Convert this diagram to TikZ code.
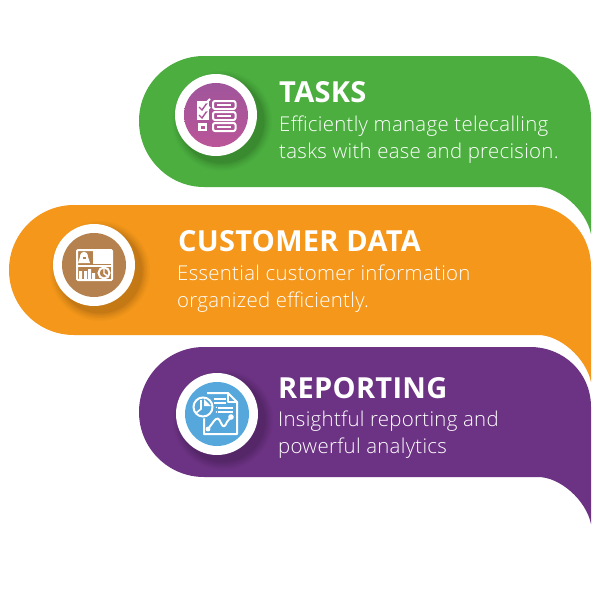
\documentclass[tikz,border=0pt]{standalone}
\usepackage{fontspec}
\setmainfont{Open Sans}
\newfontfamily\lightfont[LetterSpace=1.5]{Open Sans Light}
\newfontfamily\titlefont[LetterSpace=1]{Open Sans}
\usetikzlibrary{calc}
\definecolor{grn}{HTML}{4BAE3F}
\definecolor{org}{HTML}{F4971B}
\definecolor{pur}{HTML}{6C3283}
\definecolor{plum}{HTML}{AD5299}
\definecolor{plumtop}{HTML}{A0559B}
\definecolor{plumbot}{HTML}{BA5598}
\definecolor{tan}{HTML}{B5824F}
\definecolor{sky}{HTML}{56A8DC}
\tikzset{
  x=1pt,y=-1pt,
  titletext/.style={anchor=base west,inner sep=0pt,text=white,font=\titlefont\fontsize{29}{29}\selectfont\bfseries},
  bodytext/.style={anchor=base west,inner sep=0pt,text=white,font=\lightfont\fontsize{20.4}{20.4}\selectfont},
  ico/.style={draw=white,line width=2pt,line join=round},
}
\newcommand{\badgeshadow}[2]{%
  \foreach \r/\o in {50/.02,48.5/.025,47/.03,45.5/.035,44/.04,42.5/.05}{
    \fill[black,opacity=\o] (#1+6,#2+6) circle[radius=\r];
  }
  \fill[white] (#1,#2) circle[radius=41];
}
\begin{document}
\begin{tikzpicture}
\useasboundingbox (0,0) rectangle (600,589);
\fill[white] (0,0) rectangle (600,589);
% green
\fill[grn] (204,56) -- (532,56) .. controls (566,56) and (591,84) .. (591,118) -- (591,234)
  .. controls (586,210) and (560,187) .. (538,187) -- (204,187)
  .. controls (168,187) and (139,157) .. (139,121) .. controls (139,85) and (168,56) .. (204,56) -- cycle;
% orange
\fill[org] (74,205) -- (530,205) .. controls (564,205) and (591,233) .. (591,267) -- (591,382)
  .. controls (586,358) and (560,335) .. (538,335) -- (74,335)
  .. controls (38,335) and (9,306) .. (9,270) .. controls (9,234) and (38,205) .. (74,205) -- cycle;
% purple
\fill[pur] (204,347) -- (530,347) .. controls (564,347) and (591,373) .. (591,407) -- (591,524)
  .. controls (586,500) and (560,477) .. (538,477) -- (204,477)
  .. controls (168,477) and (139,448) .. (139,412) .. controls (139,376) and (168,347) .. (204,347) -- cycle;
% badges
\badgeshadow{216}{115}
\shade[top color=plumtop,bottom color=plumbot] (216,115) circle[radius=32];
\badgeshadow{94}{265}
\fill[tan] (94,265) circle[radius=32];
\badgeshadow{217}{414}
\fill[sky] (217,414) circle[radius=32];
% tasks icon
\begin{scope}[shift={(197,100)}]
  \fill[white] (0,1) rectangle (12,20);
  \draw[plum,line width=1.4pt] (2,7) -- (5,10) -- (10,3);
  \draw[plum,line width=1.4pt] (2,15) -- (5,18) -- (10,11);
  \draw[white,line width=1.8pt] (9,3) -- (13,-1);
  \draw[white,line width=1.8pt] (9,11) -- (13,7);
  \fill[white] (1,23) rectangle (10,31);
  \fill[plumbot] (3.5,25.5) rectangle (7.5,28.5);
  \foreach \yy in {1,12,23}{
    \draw[ico,rounded corners=2pt] (16,\yy) rectangle (38.5,\yy+8);
    \draw[white,line width=1.2pt] (20,\yy+4) -- (34,\yy+4);
  }
\end{scope}
% customer data icon
\begin{scope}[shift={(76,249)}]
  \draw[ico,rounded corners=1pt] (1,1) rectangle (36,31);
  \fill[white] (17,1) rectangle (36,15);
  \fill[white] (2,14) -- (4,8) .. controls (4,1) and (12,1) .. (12,8) -- (14,14) -- cycle;
  \fill[tan] (6.5,8) rectangle (9.5,10);
  \draw[white,line width=1.6pt] (2,17) -- (35,17);
  \fill[tan] (14,3) rectangle (16,5) (14,7) rectangle (16,9) (14,11) rectangle (16,13);
  \fill[white] (3,22) rectangle (6,31) (8,22) rectangle (11,31) (12,20) rectangle (15,31) (16,24) rectangle (19,31);
  \draw[white,line width=2pt] (28,24) circle[radius=5.5];
  \draw[white,line width=1.4pt] (28,20) -- (28,24.5) -- (31.5,27);
\end{scope}
% reporting icon
\begin{scope}[shift={(193,392)}]
  \draw[ico] (14,1) -- (35,1) -- (44,10) -- (44,42) -- (11,42) -- (11,24);
  \draw[ico] (35,1) -- (35,10) -- (44,10);
  \draw[white,line width=2pt] (21,7) -- (33,7) (21,11) -- (33,11);
  \draw[white,line width=2pt] (23,16) -- (40,16) (23,20) -- (40,20);
  \fill[sky] (23,15) rectangle (25,21);
  \fill[white] (23.5,15.3) circle[radius=.8] (23.5,20) circle[radius=.8];
  \fill[sky] (10,15) circle[radius=11.5];
  \draw[white,line width=2pt] (10,15) circle[radius=9.5];
  \fill[white] (11,7) -- (18,14) -- (11,14) -- cycle;
  \draw[white,line width=1.6pt] (8,8) -- (8,17) -- (3,21);
  \draw[white,line width=2pt,line join=round] (15,37) -- (21,29) .. controls (24,25) and (26,26) .. (28,31) .. controls (30,36) and (32,35) .. (34,30) -- (38,25);
  \fill[white] (15,37) circle[radius=2.4] (38,25) circle[radius=2.8];
\end{scope}
% text
\node[titletext] (t1) at (279,102) {TASKS};
\node[bodytext] (b1a) at (279,131) {Efficiently manage telecalling};
\node[bodytext] (b1b) at (279,158) {tasks with ease and precision.};
\node[titletext] (t2) at (178,251) {CUSTOMER DATA};
\node[bodytext] (b2a) at (177,280) {Essential customer information};
\node[bodytext] (b2b) at (177,307) {organized efficiently.};
\node[titletext] (t3) at (278,398) {REPORTING};
\node[bodytext] (b3a) at (278,426) {Insightful reporting and};
\node[bodytext] (b3b) at (278,453) {powerful analytics};
\end{tikzpicture}
\end{document}
